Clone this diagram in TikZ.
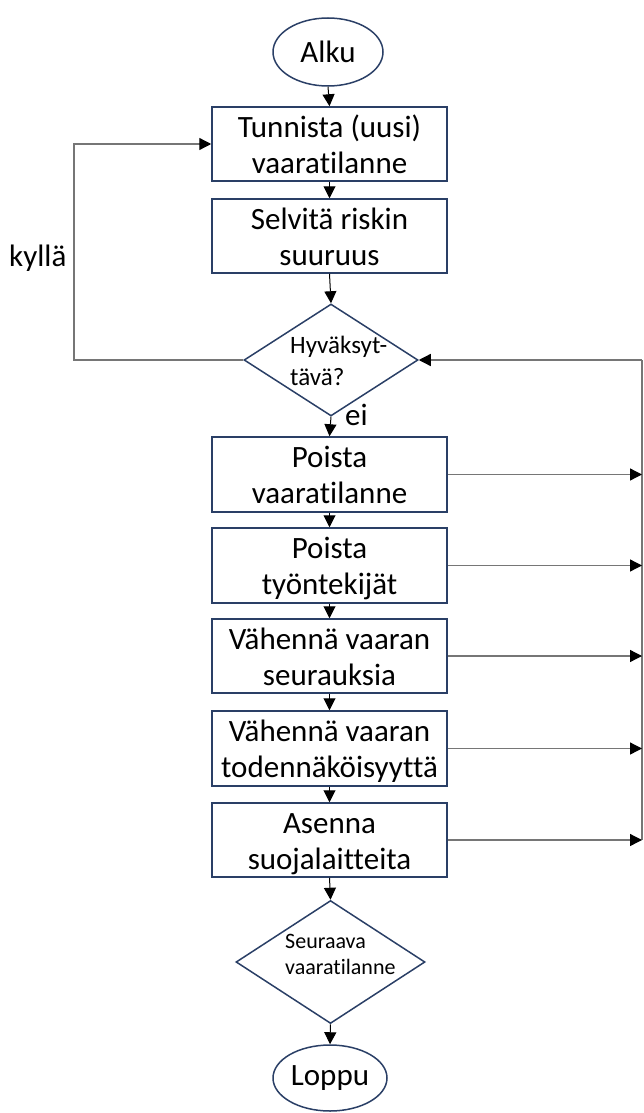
\documentclass[tikz,border=0pt]{standalone}
\usepackage{fontspec}
\setmainfont{Carlito}[Ligatures=NoCommon]
\usetikzlibrary{shapes.geometric,arrows.meta}
\definecolor{navy}{HTML}{2A3F66}
\definecolor{wire}{HTML}{767676}
% fixed line extents so every two-line label sits the same way in its box
\newcommand\topline{\rule{0pt}{30pt}}
\newcommand\botline{\rule[-8pt]{0pt}{8pt}}
\newcommand\steplabel[2]{\topline#1\\#2\botline}
\begin{document}
\begin{tikzpicture}[x=1pt,y=-1pt,
  stepbox/.style={draw=navy,line width=1.5pt,minimum width=235pt,minimum height=74pt,
    inner sep=0pt,align=center,font=\fontsize{31}{36}\selectfont},
  terminal/.style={ellipse,draw=navy,line width=1.5pt,inner sep=0pt,
    font=\fontsize{31}{36}\selectfont},
  decision/.style={diamond,draw=navy,line width=1.5pt,inner sep=0pt},
  qtext/.style={align=left,inner sep=0pt,anchor=north west},
  lbl/.style={inner sep=0pt,font=\fontsize{31}{36}\selectfont},
  flow/.style={-{Triangle[length=12pt,width=12pt,color=black]},line width=1pt},
  back/.style={flow,draw=wire,line width=1.3pt},
]
\useasboundingbox (0,0) rectangle (644,1113);

% start and end
\node[terminal,minimum width=110pt,minimum height=68pt] (start) at (328,52) {Alku};
\node[terminal,minimum width=114pt,minimum height=66pt] (stop) at (330,1078) {Loppu};

% main chain of steps
\node[stepbox] (b1) at (329.5,144) {\steplabel{Tunnista (uusi)}{vaaratilanne}};
\node[stepbox] (b2) at (329.5,236) {\steplabel{Selvitä riskin}{suuruus}};
\node[decision,minimum width=174pt,minimum height=112pt] (d1) at (331,360) {};
\node[qtext,font=\fontsize{25}{32}\selectfont] (d1t) at (290,336) {Hyväksyt-\\tävä?};
\node[stepbox,minimum height=75pt] (b3) at (329.5,474.5) {\steplabel{Poista}{vaaratilanne}};
\node[stepbox,minimum height=75pt] (b4) at (329.5,565.5) {\steplabel{Poista}{työntekijät}};
\node[stepbox] (b5) at (329.5,656) {\steplabel{Vähennä vaaran}{seurauksia}};
\node[stepbox,minimum height=75pt] (b6) at (329.5,748.5) {\steplabel{Vähennä vaaran}{todennäköisyyttä}};
\node[stepbox] (b7) at (329.5,840) {\steplabel{Asenna}{suojalaitteita}};
\node[decision,minimum width=189pt,minimum height=123pt] (d2) at (330.5,962) {};
\node[qtext,font=\fontsize{22}{26}\selectfont] (d2t) at (285,934) {Seuraava\\vaaratilanne};

% branch labels
\node[lbl,anchor=base west] (yes) at (9,266) {kyllä};
\node[lbl,anchor=base west] (no) at (345,425) {ei};

% downward flow
\draw[flow] (start.south) -- (b1.north);
\draw[flow] (b1.south) -- (b2.north);
\draw[flow] (b2.south) -- (d1.north);
\draw[flow] (d1.south) -- (b3.north);
\draw[flow] (b3.south) -- (b4.north);
\draw[flow] (b4.south) -- (b5.north);
\draw[flow] (b5.south) -- (b6.north);
\draw[flow] (b6.south) -- (b7.north);
\draw[flow] (b7.south) -- (d2.north);
\draw[flow] (d2.south) -- (stop.north);

% "kyllä" loop back to the first step
\coordinate (lx) at (74,360);
\draw[back] (d1.west) -- (lx) |- (b1.west);

% return bus on the right
\coordinate (rtop) at (642,360);
\coordinate (rbot) at (642,840);
\draw[draw=wire,line width=1.5pt] (rtop) -- (rbot);
\draw[back] (rtop) -- (d1.east);
\foreach \b in {b3,b4,b5,b6,b7}
  \draw[back] (\b.east) -- (rtop |- \b.east);
\end{tikzpicture}
\end{document}
